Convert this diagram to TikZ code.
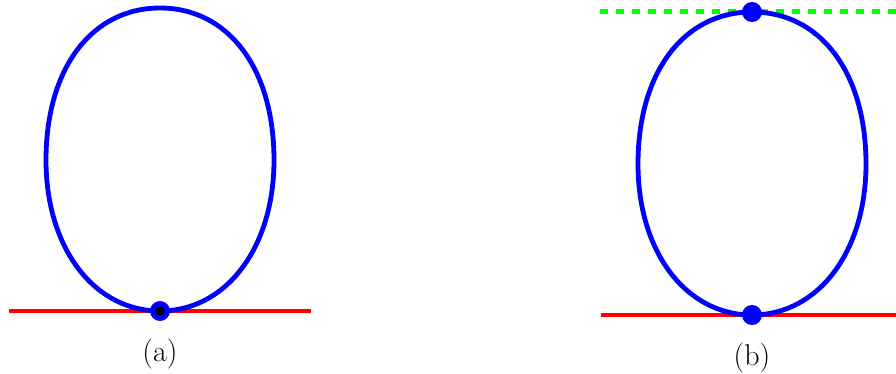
\documentclass[tikz,border=0pt]{standalone}
\usepackage{fontspec}
\usetikzlibrary{positioning}
\definecolor{cLoop}{HTML}{0000FF}
\definecolor{cBase}{HTML}{FF0000}
\definecolor{cTop}{HTML}{00FF00}
\tikzset{
  loopline/.style={draw=cLoop, line width=4.8pt},
  baseline/.style={draw=cBase, line width=4.8pt},
  topline/.style={draw=cTop, line width=5pt, dash pattern=on 8pt off 8pt},
  vertexdot/.style={circle, fill=cLoop, minimum size=20pt, inner sep=0pt},
  innerdot/.style={circle, fill=black, minimum size=9.5pt, inner sep=0pt},
  caption/.style={font=\fontsize{30}{34}\selectfont, text=black},
}
\begin{document}
\begin{tikzpicture}[x=1pt,y=-1pt]
  \useasboundingbox (0,0) rectangle (896,374);

  % ---------- (a) ----------
  \coordinate (al) at (9,311);
  \coordinate (ar) at (311,311);
  \coordinate (at) at (160,8);
  \draw[baseline] (al) -- (ar);
  \draw[loopline] (160,311) .. controls (94,311) and (46,248) .. (46,160)
    .. controls (46,68) and (92,8) .. (at)
    .. controls (228,8) and (274,68) .. (274,160)
    .. controls (274,248) and (226,311) .. (160,311);
  \node[vertexdot] (av) at (160,311) {};
  \node[innerdot] (ac) at (160,311) {};
  \node[caption] (acap) at (160,354) {(a)};

  % ---------- (b) ----------
  \coordinate (bl) at (601,315);
  \coordinate (br) at (896,315);
  \coordinate (tl) at (600,12);
  \coordinate (tr) at (896,12);
  \draw[baseline] (bl) -- (br);
  \draw[topline] (tl) -- (tr);
  \draw[loopline] (752,315) .. controls (686,315) and (638,252) .. (638,164)
    .. controls (638,72) and (684,12) .. (752,12)
    .. controls (820,12) and (866,72) .. (866,164)
    .. controls (866,252) and (818,315) .. (752,315);
  \node[vertexdot] (bv) at (752,315) {};
  \node[vertexdot] (tv) at (752,12) {};
  \node[caption] (bcap) at (752,358) {(b)};
\end{tikzpicture}
\end{document}
